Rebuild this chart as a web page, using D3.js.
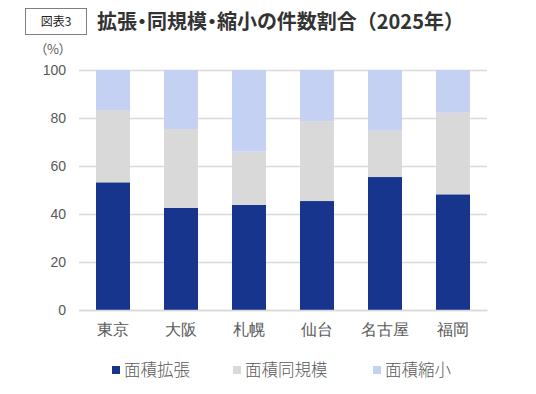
<!DOCTYPE html>
<html>
<head>
<meta charset="utf-8">
<script src="https://cdn.jsdelivr.net/npm/d3@7"></script>
<style>
  body { margin: 0; background: #fff; }
  svg { font-family: "Noto Sans CJK JP", "Noto Sans", sans-serif; }
  .tick text { fill: #595959; }
  .palt { font-feature-settings: "palt"; }
  .nopalt { font-feature-settings: normal; }
</style>
</head>
<body>
<svg id="chart" width="536" height="394"></svg>
<script>
// 都市ごとの割合 (%)
const cities = ["東京", "大阪", "札幌", "仙台", "名古屋", "福岡"];
const expand = [53.2, 42.5, 43.8, 45.4, 55.4, 48.2];
const same = [30.1, 32.9, 22.2, 33.3, 19.3, 34.0];
const shrink = [16.7, 24.6, 34.0, 21.3, 25.3, 17.8];
const seriesNames = ["面積拡張", "面積同規模", "面積縮小"];
const colors = ["#17358c", "#d9d9d9", "#c5d1f3"];
const yTicks = [0, 20, 40, 60, 80, 100];

const svg = d3.select("#chart");
const margin = { top: 70, right: 49, bottom: 84, left: 79 };
const width = +svg.attr("width");
const height = +svg.attr("height");
const innerWidth = width - margin.left - margin.right;
const innerHeight = height - margin.top - margin.bottom;

// header box + title
svg.append("rect")
  .attr("x", 25.5).attr("y", 8.5)
  .attr("width", 61).attr("height", 26)
  .attr("fill", "#fff").attr("stroke", "#7f7f7f");
svg.append("text")
  .attr("class", "palt")
  .attr("x", 56).attr("y", 26)
  .attr("text-anchor", "middle")
  .attr("font-size", 12).attr("fill", "#222")
  .text("図表3");
const title = svg.append("text")
  .attr("class", "palt")
  .attr("x", 97).attr("y", 28.5)
  .attr("font-size", 20).attr("font-weight", "bold").attr("fill", "#333");
title.append("tspan").text("拡張・同規模・縮小の件数割合");
title.append("tspan").attr("class", "nopalt").text("（2025年）");

const table = cities.map((c, i) => ({
  city: c,
  [seriesNames[0]]: expand[i],
  [seriesNames[1]]: same[i],
  [seriesNames[2]]: shrink[i],
}));
const stacked = d3.stack().keys(seriesNames)(table);

const xScale = d3.scaleBand()
  .domain(cities)
  .range([0, innerWidth])
  .paddingInner(0.5)
  .paddingOuter(0.25);

const yScale = d3.scaleLinear()
  .domain([0, 100])
  .range([innerHeight, 0]);

const g = svg.append("g")
  .attr("transform", `translate(${margin.left},${margin.top})`);

// gridlines + y labels
const yAxisG = g.append("g")
  .call(d3.axisLeft(yScale).tickValues(yTicks).tickSize(-innerWidth).tickPadding(13));
yAxisG.select(".domain").remove();
yAxisG.selectAll(".tick line").attr("stroke", "#d9d9d9").attr("stroke-width", 1.5);
yAxisG.selectAll(".tick text")
  .attr("font-family", "'Liberation Sans', Arial, sans-serif")
  .attr("font-size", 14);

svg.append("text")
  .attr("class", "palt")
  .attr("x", 53).attr("y", 54)
  .attr("text-anchor", "middle")
  .attr("font-size", 13).attr("fill", "#595959")
  .text("（%）");

g.selectAll("g.series")
  .data(stacked)
  .enter()
  .append("g")
  .attr("class", "series")
  .attr("fill", (d, i) => colors[i])
  .selectAll("rect")
  .data((d) => d)
  .enter()
  .append("rect")
  .attr("x", (d) => xScale(d.data.city))
  .attr("y", (d) => yScale(d[1]))
  .attr("width", xScale.bandwidth())
  .attr("height", (d) => yScale(d[0]) - yScale(d[1]));

// x axis
const xAxisG = g.append("g")
  .attr("transform", `translate(0,${innerHeight})`)
  .call(d3.axisBottom(xScale).tickSize(0).tickPadding(14));
xAxisG.select(".domain").attr("stroke", "#d9d9d9").attr("stroke-width", 1.5);
xAxisG.selectAll(".tick text").attr("font-size", 16).attr("font-weight", 300);

// legend
const legendX = [112, 233, 373];
const legend = svg.append("g")
  .selectAll("g")
  .data(seriesNames)
  .enter()
  .append("g")
  .attr("transform", (d, i) => `translate(${legendX[i]},370)`);
legend.append("rect")
  .attr("y", -4).attr("width", 8).attr("height", 8)
  .attr("fill", (d, i) => colors[i]);
legend.append("text")
  .attr("x", 12).attr("y", 6)
  .attr("font-size", 16.5).attr("font-weight", 300).attr("fill", "#595959")
  .text((d) => d);
</script>
</body>
</html>
